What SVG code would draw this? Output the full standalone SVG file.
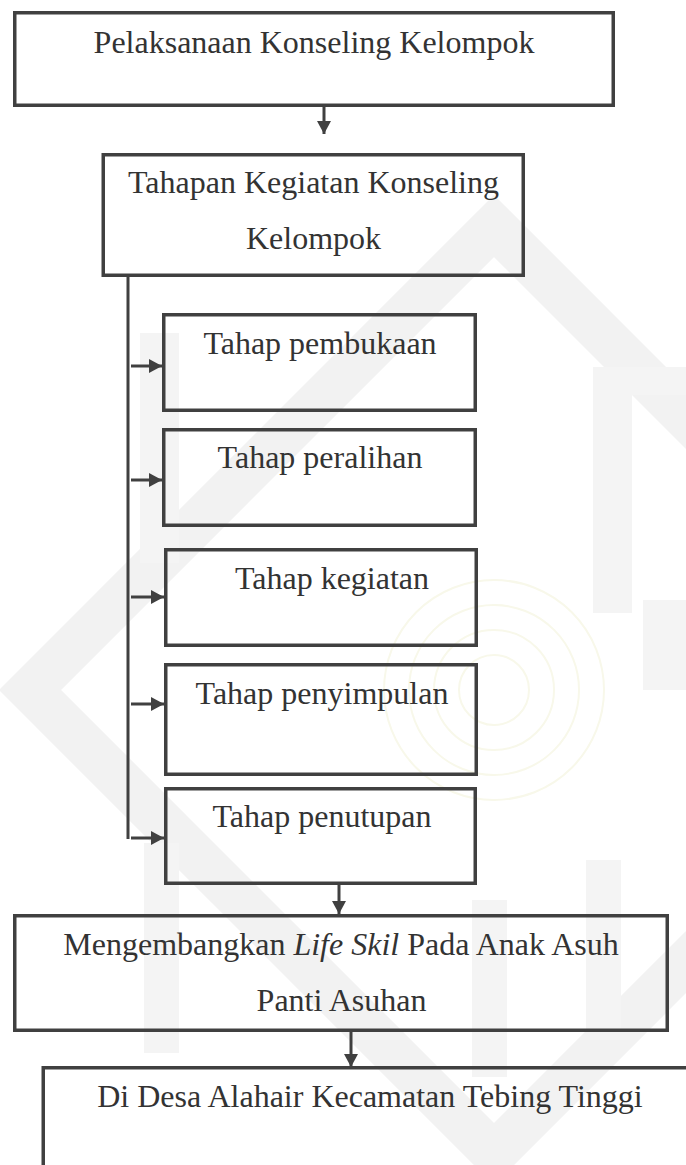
<svg xmlns="http://www.w3.org/2000/svg" width="686" height="1165" viewBox="0 0 686 1165">
  <style>
    .box { fill: none; stroke: #404040; stroke-width: 3.5; }
    .lbl { font-family: "Liberation Serif", "Times New Roman", serif; font-size: 32px; fill: #333333; text-anchor: middle; }
    .conn { stroke: #404040; stroke-width: 3; fill: none; }
    .arr { marker-end: url(#ah); }
    .wm { fill: none; stroke: #f2f2f2; }
    .bar { fill: #f4f4f4; }
    .fp { fill: none; stroke: #f8f8ea; stroke-width: 2; }
  </style>
  <defs>
    <marker id="ah" markerUnits="userSpaceOnUse" markerWidth="14" markerHeight="14" refX="13" refY="7" orient="auto">
      <path d="M0,0 L13,7 L0,14 Z" fill="#404040"/>
    </marker>
  </defs>
  <rect width="686" height="1165" fill="#ffffff"/>

  <g id="watermark">
    <polygon class="wm" stroke-width="44" points="494,226 958,690 494,1154 30,690"/>
    <rect class="bar" x="140" y="333" width="39" height="230"/>
    <rect class="bar" x="593" y="395" width="39" height="218"/>
    <rect class="bar" x="593" y="367" width="93" height="28"/>
    <rect class="bar" x="643" y="600" width="43" height="90"/>
    <rect class="bar" x="144" y="843" width="35" height="210"/>
    <rect class="bar" x="472" y="900" width="35" height="177"/>
    <rect class="bar" x="586" y="860" width="35" height="170"/>
    <circle class="fp" cx="494" cy="690" r="35"/>
    <circle class="fp" cx="494" cy="690" r="60"/>
    <circle class="fp" cx="494" cy="690" r="85"/>
    <circle class="fp" cx="494" cy="690" r="110"/>
  </g>

  <g id="connectors">
    <line class="conn arr" x1="324" y1="107" x2="324" y2="134"/>
    <line class="conn" x1="128" y1="277" x2="128" y2="839"/>
    <line class="conn arr" x1="131" y1="366" x2="162" y2="366"/>
    <line class="conn arr" x1="131" y1="480" x2="162" y2="480"/>
    <line class="conn arr" x1="131" y1="597" x2="164" y2="597"/>
    <line class="conn arr" x1="131" y1="704" x2="164" y2="704"/>
    <line class="conn arr" x1="131" y1="838" x2="164" y2="838"/>
    <line class="conn arr" x1="339" y1="884" x2="339" y2="914"/>
    <line class="conn arr" x1="351" y1="1032" x2="351" y2="1067"/>
  </g>

  <g id="n-pelaksanaan">
    <rect class="box" x="14.75" y="12.75" width="598.5" height="92.5"/>
    <text class="lbl" x="314" y="53">Pelaksanaan Konseling Kelompok</text>
  </g>

  <g id="n-tahapan">
    <rect class="box" x="103.25" y="154.75" width="420" height="120.5"/>
    <text class="lbl" x="313.5" y="193">Tahapan Kegiatan Konseling</text>
    <text class="lbl" x="313.5" y="249">Kelompok</text>
  </g>

  <g id="n-pembukaan">
    <rect class="box" x="163.75" y="314.75" width="311.5" height="95.5"/>
    <text class="lbl" x="320" y="354">Tahap pembukaan</text>
  </g>

  <g id="n-peralihan">
    <rect class="box" x="163.75" y="429.75" width="311.5" height="95.5"/>
    <text class="lbl" x="320" y="468">Tahap peralihan</text>
  </g>

  <g id="n-kegiatan">
    <rect class="box" x="165.75" y="549.75" width="310.5" height="95.5"/>
    <text class="lbl" x="332" y="589">Tahap kegiatan</text>
  </g>

  <g id="n-penyimpulan">
    <rect class="box" x="165.75" y="664.75" width="310.5" height="109.5"/>
    <text class="lbl" x="322" y="704">Tahap penyimpulan</text>
  </g>

  <g id="n-penutupan">
    <rect class="box" x="165.75" y="788.75" width="309.5" height="94.5"/>
    <text class="lbl" x="322" y="827">Tahap penutupan</text>
  </g>

  <g id="n-mengembangkan">
    <rect class="box" x="14.75" y="915.75" width="652.5" height="114.5"/>
    <text class="lbl" x="341" y="955">Mengembangkan <tspan font-style="italic">Life Skil</tspan> Pada Anak Asuh</text>
    <text class="lbl" x="341.5" y="1011">Panti Asuhan</text>
  </g>

  <g id="n-desa">
    <rect class="box" x="43.25" y="1067.75" width="700" height="200"/>
    <text class="lbl" x="370" y="1107">Di Desa Alahair Kecamatan Tebing Tinggi</text>
  </g>
</svg>
